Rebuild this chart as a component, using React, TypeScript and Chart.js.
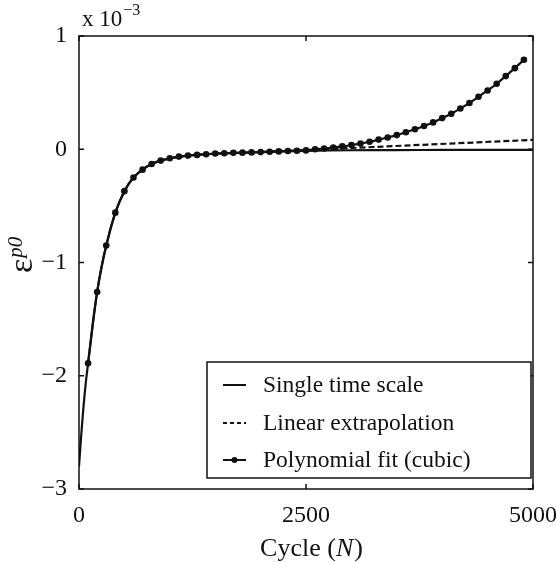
import React, { useEffect, useRef } from "react";
import { Chart, registerables } from "chart.js";

Chart.register(...registerables);

// ---- data (strain in units of 1e-3) ----
const singleCycles = [0, 25, 50, 75, 100, 150, 200, 250, 300, 400, 500, 600, 700, 800, 900, 1000, 1200, 1400, 1600, 1800, 2000, 2500, 3000, 3500, 4000, 4500, 5000];
const singleStrain = [-2.8, -2.52, -2.27, -2.06, -1.89, -1.55, -1.26, -1.03, -0.85, -0.56, -0.37, -0.25, -0.18, -0.13, -0.1, -0.08, -0.056, -0.044, -0.035, -0.03, -0.025, -0.014, -0.009, -0.007, -0.006, -0.005, -0.005];

const linearCycles = [2000, 5000];
const linearStrain = [-0.025, 0.083];

const polyCycles = [100, 200, 300, 400, 500, 600, 700, 800, 900, 1000, 1100, 1200, 1300, 1400, 1500, 1600, 1700, 1800, 1900, 2000, 2100, 2200, 2300, 2400, 2500, 2600, 2700, 2800, 2900, 3000, 3100, 3200, 3300, 3400, 3500, 3600, 3700, 3800, 3900, 4000, 4100, 4200, 4300, 4400, 4500, 4600, 4700, 4800, 4900];
const polyStrain = [-1.89, -1.26, -0.85, -0.56, -0.37, -0.25, -0.18, -0.13, -0.1, -0.08, -0.065, -0.056, -0.05, -0.044, -0.038, -0.035, -0.032, -0.03, -0.028, -0.025, -0.022, -0.019, -0.016, -0.013, -0.01, 0.0, 0.007, 0.016, 0.025, 0.037, 0.05, 0.066, 0.085, 0.104, 0.125, 0.15, 0.176, 0.205, 0.237, 0.275, 0.313, 0.36, 0.408, 0.463, 0.519, 0.578, 0.646, 0.716, 0.79];

const xTicks = [0, 2500, 5000];
const yTicks = [-3, -2, -1, 0, 1];
const seriesLabels = ["Single time scale", "Linear extrapolation", "Polynomial fit (cubic)"];

const FONT = '"Liberation Serif", "Times New Roman", serif';
const INK = "#111";

const toPoints = (xs: number[], ys: number[]) => xs.map((x, i) => ({ x, y: ys[i] }));
const fmt = (v: number) => (v < 0 ? "\u2212" + Math.abs(v) : String(v));

const decorPlugin = {
  id: "decor",
  afterDraw(chart: any) {
    const { ctx, chartArea: a, scales } = chart;
    const xs = scales.x;
    const ys = scales.y;
    ctx.save();
    // frame
    ctx.strokeStyle = INK;
    ctx.lineWidth = 1.5;
    ctx.strokeRect(a.left, a.top, a.right - a.left, a.bottom - a.top);
    // inward ticks
    const tl = 5;
    ctx.beginPath();
    yTicks.forEach((v) => {
      const py = ys.getPixelForValue(v);
      ctx.moveTo(a.left, py);
      ctx.lineTo(a.left + tl, py);
      ctx.moveTo(a.right, py);
      ctx.lineTo(a.right - tl, py);
    });
    xTicks.forEach((v) => {
      const px = xs.getPixelForValue(v);
      ctx.moveTo(px, a.bottom);
      ctx.lineTo(px, a.bottom - tl);
      ctx.moveTo(px, a.top);
      ctx.lineTo(px, a.top + tl);
    });
    ctx.stroke();

    ctx.fillStyle = INK;
    ctx.textAlign = "left";
    ctx.textBaseline = "alphabetic";

    // exponent label
    ctx.font = `23px ${FONT}`;
    ctx.fillText("x 10", 82, 26);
    const w10 = ctx.measureText("x 10").width;
    ctx.font = `16px ${FONT}`;
    ctx.fillText("\u22123", 82 + w10 + 1, 15);

    // x title: Cycle (N)
    const tf = 26;
    ctx.font = `${tf}px ${FONT}`;
    const p1 = "Cycle (";
    const p3 = ")";
    const w1 = ctx.measureText(p1).width;
    const w3 = ctx.measureText(p3).width;
    ctx.font = `italic ${tf}px ${FONT}`;
    const w2 = ctx.measureText("N").width;
    const cx = 311;
    const sx = cx - (w1 + w2 + w3) / 2;
    const by = 556;
    ctx.font = `${tf}px ${FONT}`;
    ctx.fillText(p1, sx, by);
    ctx.font = `italic ${tf}px ${FONT}`;
    ctx.fillText("N", sx + w1, by);
    ctx.font = `${tf}px ${FONT}`;
    ctx.fillText(p3, sx + w1 + w2 + 1, by);

    // y title: epsilon^{p0}
    ctx.save();
    ctx.translate(32, 273);
    ctx.rotate(-Math.PI / 2);
    ctx.font = `34px ${FONT}`;
    ctx.fillText("\u03b5", 0, 0);
    const we = ctx.measureText("\u03b5").width;
    ctx.font = `italic 21px ${FONT}`;
    ctx.fillText("p0", we + 1, -10);
    ctx.restore();

    // legend
    const lx = 207, ly = 362, lw = 324, lh = 116;
    ctx.fillStyle = "#fff";
    ctx.fillRect(lx, ly, lw, lh);
    ctx.strokeStyle = INK;
    ctx.lineWidth = 1.5;
    ctx.strokeRect(lx, ly, lw, lh);
    const rows = [385, 423, 460];
    ctx.font = `23.5px ${FONT}`;
    ctx.textBaseline = "middle";
    ctx.fillStyle = INK;
    rows.forEach((ry, i) => {
      ctx.beginPath();
      ctx.lineWidth = 2;
      ctx.setLineDash(i === 1 ? [4, 3] : []);
      ctx.moveTo(223, ry);
      ctx.lineTo(246, ry);
      ctx.stroke();
      ctx.setLineDash([]);
      if (i === 2) {
        ctx.beginPath();
        ctx.arc(234.5, ry, 3, 0, Math.PI * 2);
        ctx.fill();
      }
      ctx.fillText(seriesLabels[i], 263, ry + 1);
    });
    ctx.restore();
  },
};

export default function App() {
  const ref = useRef<HTMLCanvasElement | null>(null);
  useEffect(() => {
    if (!ref.current) return;
    const chart = new Chart(ref.current, {
      type: "line",
      data: {
        datasets: [
          {
            label: seriesLabels[0],
            data: toPoints(singleCycles, singleStrain),
            borderColor: INK,
            borderWidth: 2.2,
            pointRadius: 0,
            tension: 0.3,
            fill: false,
          },
          {
            label: seriesLabels[1],
            data: toPoints(linearCycles, linearStrain),
            borderColor: INK,
            borderWidth: 2.2,
            borderDash: [6, 3],
            pointRadius: 0,
            fill: false,
          },
          {
            label: seriesLabels[2],
            data: toPoints(polyCycles, polyStrain),
            borderColor: INK,
            backgroundColor: INK,
            borderWidth: 2.2,
            pointRadius: 3.3,
            pointBorderWidth: 0,
            pointBackgroundColor: INK,
            tension: 0.3,
            fill: false,
          },
        ],
      },
      options: {
        responsive: false,
        animation: false,
        layout: { padding: { left: 0, top: 36, right: 24, bottom: 0 } },
        plugins: { legend: { display: false }, tooltip: { enabled: false } },
        scales: {
          x: {
            type: "linear",
            min: 0,
            max: 5000,
            afterBuildTicks: (s: any) => {
              s.ticks = xTicks.map((v) => ({ value: v }));
            },
            afterFit: (s: any) => {
              s.height = 74;
              s.paddingLeft = 0;
              s.paddingRight = 0;
            },
            grid: { display: false, drawTicks: false },
            border: { display: false },
            ticks: {
              padding: 12,
              color: INK,
              font: { family: FONT, size: 24 },
              maxRotation: 0,
              callback: (v: any) => fmt(Number(v)),
            },
          },
          y: {
            type: "linear",
            min: -3,
            max: 1,
            afterBuildTicks: (s: any) => {
              s.ticks = yTicks.map((v) => ({ value: v }));
            },
            afterFit: (s: any) => {
              s.width = 79;
              s.paddingTop = 0;
              s.paddingBottom = 0;
            },
            grid: { display: false, drawTicks: false },
            border: { display: false },
            ticks: {
              padding: 12,
              color: INK,
              font: { family: FONT, size: 24 },
              callback: (v: any) => fmt(Number(v)),
            },
          },
        },
      },
      plugins: [decorPlugin],
    });
    return () => chart.destroy();
  }, []);
  return (
    <div style={{ position: "fixed", left: 0, top: 0, width: 557, height: 563, background: "#fff" }}>
      <canvas ref={ref} width={557} height={563} style={{ width: 557, height: 563 }} />
    </div>
  );
}
